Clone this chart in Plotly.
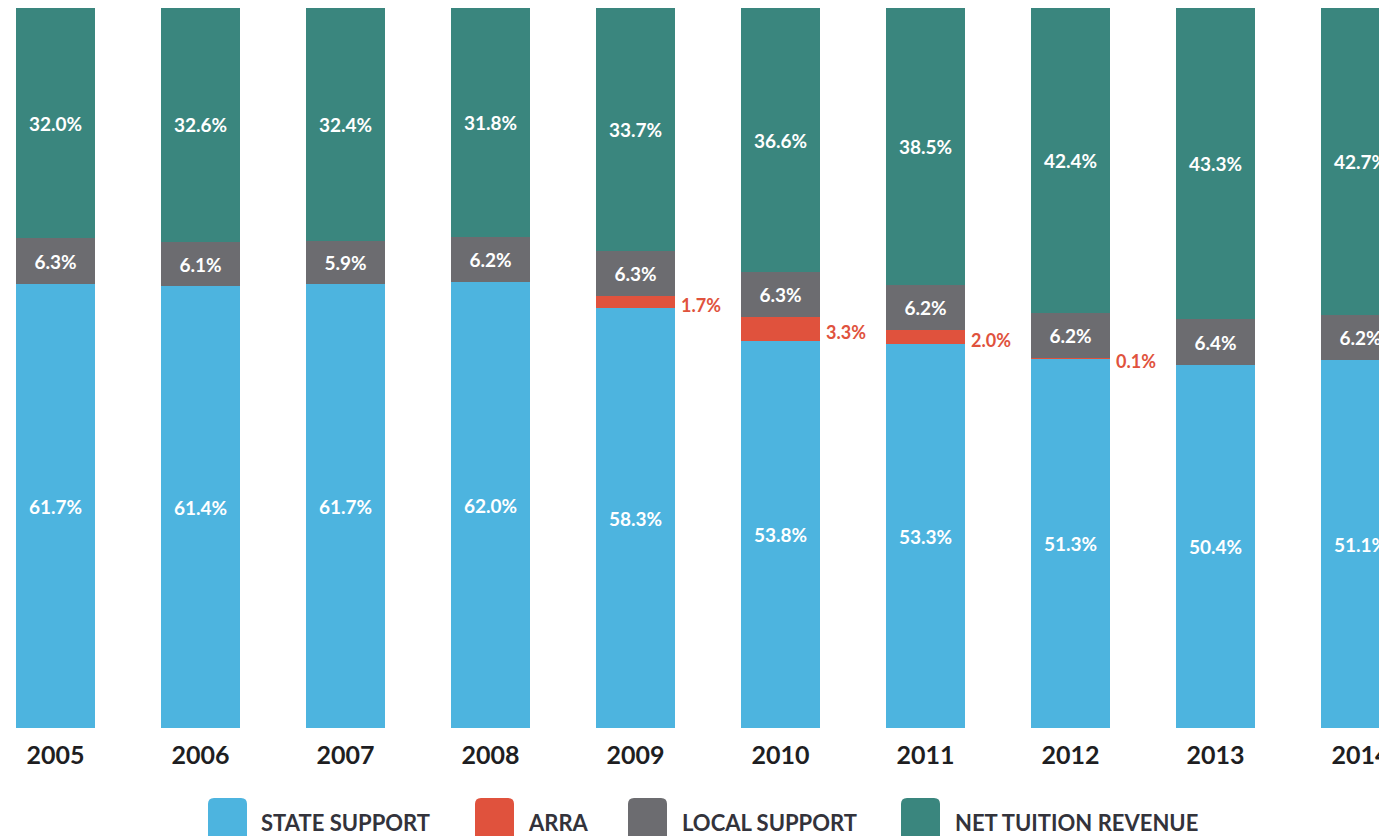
import plotly.graph_objects as go

years = ["2005", "2006", "2007", "2008", "2009", "2010", "2011", "2012", "2013", "2014"]
state_support = [61.7, 61.4, 61.7, 62.0, 58.3, 53.8, 53.3, 51.3, 50.4, 51.1]
arra = [0, 0, 0, 0, 1.7, 3.3, 2.0, 0.1, 0, 0]
local_support = [6.3, 6.1, 5.9, 6.2, 6.3, 6.3, 6.2, 6.2, 6.4, 6.2]
net_tuition = [32.0, 32.6, 32.4, 31.8, 33.7, 36.6, 38.5, 42.4, 43.3, 42.7]

series_names = ["STATE SUPPORT", "ARRA", "LOCAL SUPPORT", "NET TUITION REVENUE"]
series_colors = ["#4DB4DF", "#E0523D", "#6C6C70", "#3A867E"]

FONT = "Lato"
BAR_W = 0.545
# page geometry (body margin 8px)
OFF = 8
PLOT_TOP, PLOT_BOT = 8, 728
FIG_W, FIG_H = 1387, 836
X0_PX, STEP_PX = 55.5, 145.0

x = list(range(len(years)))


def fmt(v):
    return f"{v:.1f}%"


fig = go.Figure()
all_series = [state_support, arra, local_support, net_tuition]
for name, color, vals in zip(series_names, series_colors, all_series):
    show_text = name != "ARRA"
    fig.add_trace(go.Bar(
        x=x, y=vals, name=name, marker=dict(color=color, line=dict(width=0)),
        width=BAR_W,
        text=[fmt(v) for v in vals] if show_text else None,
        textposition="inside", insidetextanchor="middle",
        textangle=0,
        textfont=dict(family=FONT, size=19, color="white", weight="bold"),
        constraintext="none",
        showlegend=False, hoverinfo="skip",
    ))

# ARRA labels outside to the right of the bar
for i, (s, a) in enumerate(zip(state_support, arra)):
    if a > 0:
        fig.add_annotation(
            x=i + BAR_W / 2, y=s + a / 2, xref="x", yref="y",
            text=fmt(a), showarrow=False, xanchor="left", yanchor="middle",
            xshift=4, yshift=-3,
            font=dict(family=FONT, size=18, color="#E0523D", weight="bold"),
        )

# custom legend (rounded squares + labels)
legend_sq_left = [208, 475, 628, 901]
legend_txt_left = [259, 526, 680, 953]
plot_h = PLOT_BOT - PLOT_TOP


def px_x(p):
    return (p - OFF) / FIG_W


def px_y(p):
    return (PLOT_BOT - p) / plot_h


sq_w, sq_top, sq_bot, r = 39, 798, 846, 6
for name, color, sl, tl in zip(series_names, series_colors, legend_sq_left, legend_txt_left):
    xa, xb = px_x(sl), px_x(sl + sq_w)
    ya, yb = px_y(sq_top), px_y(sq_bot)
    rx, ry = r / FIG_W, r / plot_h
    path = (f"M {xa+rx},{ya} L {xb-rx},{ya} Q {xb},{ya} {xb},{ya-ry} "
            f"L {xb},{yb+ry} Q {xb},{yb} {xb-rx},{yb} L {xa+rx},{yb} "
            f"Q {xa},{yb} {xa},{yb+ry} L {xa},{ya-ry} Q {xa},{ya} {xa+rx},{ya} Z")
    fig.add_shape(type="path", path=path, xref="paper", yref="paper",
                  fillcolor=color, line=dict(width=0), layer="above")
    fig.add_annotation(
        x=px_x(tl), y=px_y(822), xref="paper", yref="paper",
        text=name, showarrow=False, xanchor="left", yanchor="middle",
        font=dict(family=FONT, size=22, color="#33333B", weight="bold"),
    )

x_lo = (OFF - X0_PX) / STEP_PX
x_hi = x_lo + FIG_W / STEP_PX

fig.update_layout(
    width=FIG_W, height=FIG_H,
    margin=dict(l=0, r=0, t=PLOT_TOP - OFF, b=FIG_H - (PLOT_BOT - OFF), pad=0),
    barmode="stack", bargap=0,
    plot_bgcolor="white", paper_bgcolor="white",
    xaxis=dict(range=[x_lo, x_hi], tickvals=x, ticktext=years, showgrid=False,
               zeroline=False, showline=False, ticks="", ticklabelstandoff=10,
               tickfont=dict(family=FONT, size=25, color="#1E1E22", weight="bold")),
    yaxis=dict(range=[0, 100], visible=False, showgrid=False, zeroline=False),
)

fig.write_html("out.html")
